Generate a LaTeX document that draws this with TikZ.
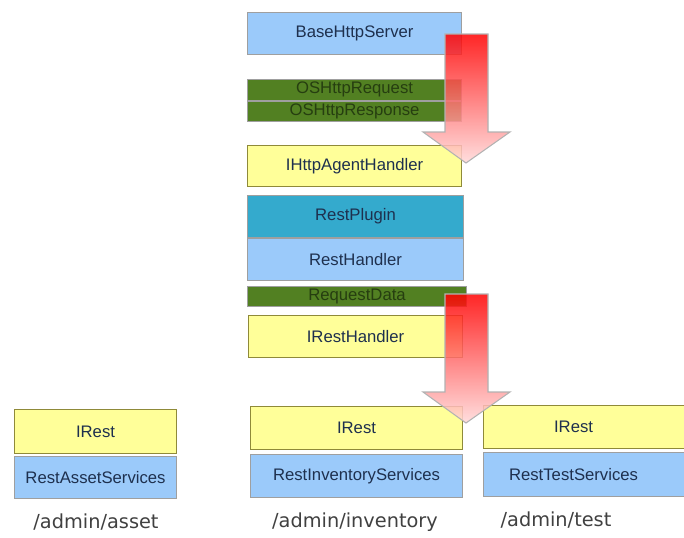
\documentclass[tikz,border=0pt]{standalone}
\usepackage{fontspec}
\setmainfont{Liberation Sans}
\newfontfamily\pathfont{DejaVu Sans}
\usetikzlibrary{positioning}

\definecolor{srvblue}{RGB}{155,202,250}
\definecolor{ifyellow}{RGB}{255,255,153}
\definecolor{plugcyan}{RGB}{52,170,205}
\definecolor{datagreen}{RGB}{82,128,34}
\definecolor{boxtext}{RGB}{30,48,78}
\definecolor{greentext}{RGB}{38,62,16}

\tikzset{
  box/.style={draw=gray!75, line width=0.6pt, anchor=north west, inner sep=0pt,
    font=\fontsize{9.5}{11}\selectfont, text=boxtext},
  bluebox/.style={box, fill=srvblue},
  yellowbox/.style={box, fill=ifyellow, draw=olive!60!gray},
  plugbox/.style={box, fill=plugcyan},
  greenbox/.style={box, fill=datagreen, text=greentext},
  fatarrow/.style={draw=gray!60, line width=0.6pt, top color=red, bottom color=red!15,
    fill opacity=0.85},
  pathlabel/.style={font=\pathfont\fontsize{11}{13}\selectfont, text=black!75}
}

\begin{document}
\begin{tikzpicture}[x=0.2mm, y=-0.2mm]
  \useasboundingbox (0,0) rectangle (684,537);

  % stack in the middle
  \node[bluebox, minimum width=4.28cm, minimum height=0.84cm] (srv) at (247,12) {BaseHttpServer};
  \node[greenbox, minimum width=4.28cm, minimum height=0.41cm] (req) at (247,79) {OSHttpRequest};
  \node[greenbox, minimum width=4.28cm, minimum height=0.41cm, below=0pt of req.south west, anchor=north west] (resp) {OSHttpResponse};
  \node[yellowbox, minimum width=4.28cm, minimum height=0.82cm] (agent) at (247,145) {IHttpAgentHandler};
  \node[plugbox, minimum width=4.32cm, minimum height=0.84cm] (plug) at (247,195) {RestPlugin};
  \node[bluebox, minimum width=4.32cm, minimum height=0.84cm, below=0pt of plug.south west, anchor=north west] (handler) {RestHandler};
  \node[greenbox, minimum width=4.38cm, minimum height=0.40cm] (data) at (247,286) {RequestData};
  \node[yellowbox, minimum width=4.28cm, minimum height=0.84cm] (irh) at (248,315) {IRestHandler};

  % services
  \node[yellowbox, minimum width=3.24cm, minimum height=0.88cm] (irA) at (14,409) {IRest};
  \node[bluebox, minimum width=3.24cm, minimum height=0.84cm] (svA) at (14,456) {RestAssetServices};
  \node[yellowbox, minimum width=4.24cm, minimum height=0.86cm] (irB) at (250,406) {IRest};
  \node[bluebox, minimum width=4.24cm, minimum height=0.86cm] (svB) at (250,454) {RestInventoryServices};
  % right column runs off the page edge
  \node[yellowbox, minimum width=4.40cm, minimum height=0.86cm] (irC) at (483,405)
    {\makebox[3.6cm]{IRest}\kern0.8cm};
  \node[bluebox, minimum width=4.40cm, minimum height=0.88cm] (svC) at (483,452)
    {\makebox[3.6cm]{RestTestServices}\kern0.8cm};

  \node[pathlabel] (pA) at (96,522) {/admin/asset};
  \node[pathlabel] (pB) at (355,522) {/admin/inventory};
  \node[pathlabel] (pC) at (556,520) {/admin/test};

  % big arrows
  \path[fatarrow] (445,34) -- (488,34) -- (488,132) -- (510,132) -- (466,163)
    -- (423,132) -- (445,132) -- cycle;
  \path[fatarrow] (445,294) -- (488,294) -- (488,392) -- (510,392) -- (466,423)
    -- (423,392) -- (445,392) -- cycle;
\end{tikzpicture}
\end{document}
